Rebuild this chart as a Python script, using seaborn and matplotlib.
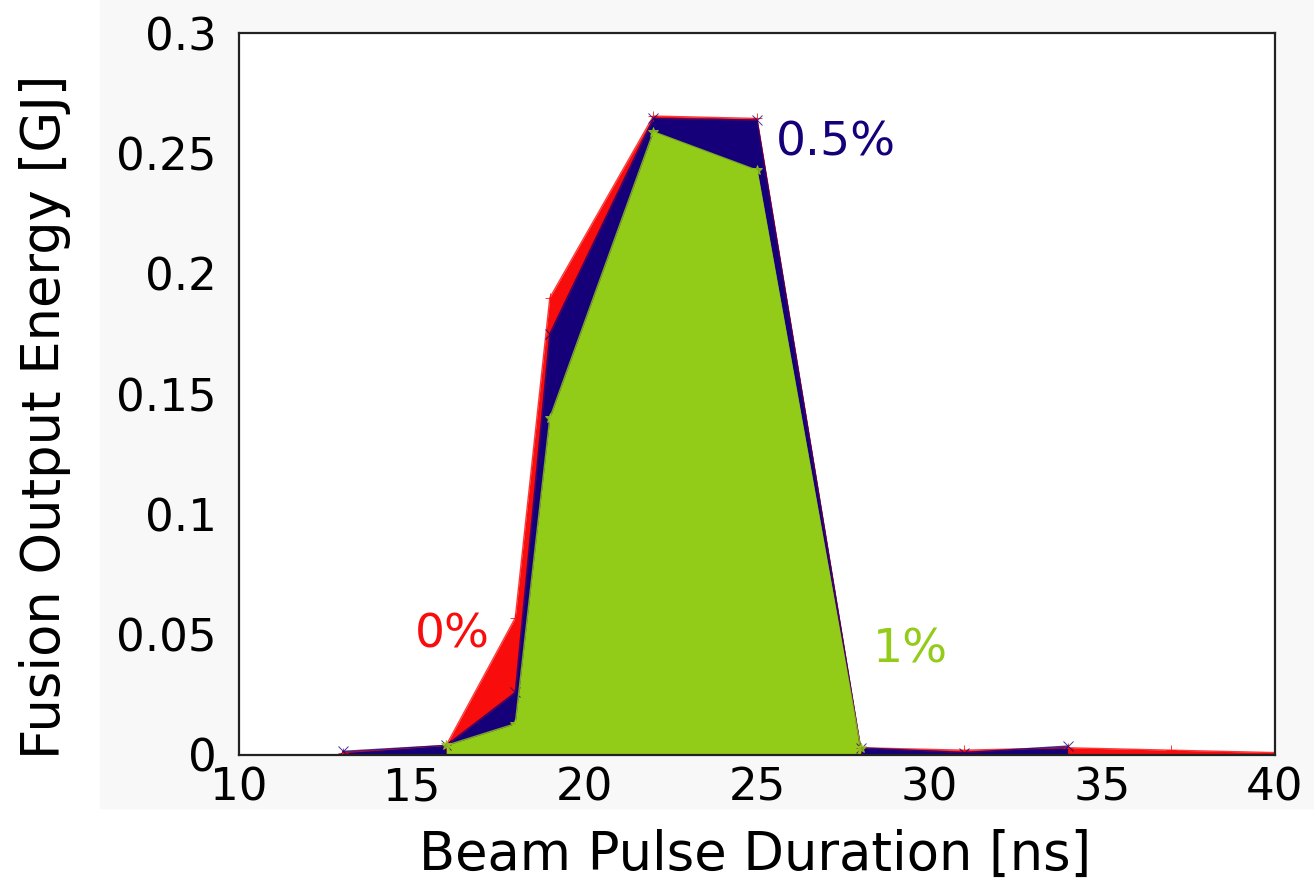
import numpy as np
import pandas as pd
import seaborn as sns
import matplotlib
matplotlib.use("Agg")
import matplotlib.pyplot as plt
from matplotlib.patches import Rectangle

# beam pulse duration [ns] and fusion output energy [GJ] for each impurity level
x_red = [13, 16, 18, 19, 22, 25, 28, 31, 34, 37, 40]
y_red = [0.001, 0.004, 0.057, 0.190, 0.2655, 0.2645, 0.003, 0.002, 0.003, 0.002, 0.001]

x_blue = [13, 16, 18, 19, 22, 25, 28, 31, 34]
y_blue = [0.0015, 0.004, 0.026, 0.175, 0.2645, 0.2638, 0.003, 0.001, 0.0037]

x_green = [16, 18, 19, 22, 25, 28]
y_green = [0.004, 0.013, 0.140, 0.259, 0.243, 0.003]

labels = ["0%", "0.5%", "1%"]
colors = ["#f80c0c", "#16007a", "#93cb19"]

xticks = [10, 15, 20, 25, 30, 35, 40]
yticks = [0, 0.05, 0.1, 0.15, 0.2, 0.25, 0.3]
ytick_labels = ["0", "0.05", "0.1", "0.15", "0.2", "0.25", "0.3"]

sns.set_style("white")
plt.rcParams['font.family'] = ['DejaVu Sans']

fig = plt.figure(figsize=(13.14, 8.85), dpi=100)
# faint grey panel behind the plot, as in the source image
fig.patches.append(Rectangle((100 / 1314, 1 - 808 / 885), 1 - 100 / 1314, 808 / 885,
                             transform=fig.transFigure, color="#f8f8f8", zorder=-10))
ax = fig.add_axes([0.1819, 0.1469, 0.9703 - 0.1819, 0.9627 - 0.1469])
ax.set_facecolor("white")

# draw 0% first, then 0.5%, then 1% on top
series = [(x_red, y_red, "+"), (x_blue, y_blue, "x"), (x_green, y_green, "*")]
for (xs, ys, mk), lab, col in zip(series, labels, colors):
  df = pd.DataFrame({"x": xs, "y": ys})
  ax.fill_between(df["x"], df["y"], 0, color=col, linewidth=0)
  sns.lineplot(data=df, x="x", y="y", ax=ax, color=col, linewidth=1.0,
               marker=mk, markersize=7, markeredgewidth=0.7,
               markeredgecolor=col, alpha=0.8)

# series labels
ax.text(16.17, 0.0499, "0%", color=colors[0], fontsize=34, ha="center", va="center")
ax.text(27.29, 0.2545, "0.5%", color=colors[1], fontsize=34, ha="center", va="center")
ax.text(29.43, 0.0436, "1%", color=colors[2], fontsize=34, ha="center", va="center")

ax.set_xlim(10, 40)
ax.set_ylim(0, 0.3)
ax.set_xticks(xticks)
ax.set_xticklabels([str(t) for t in xticks])
ax.set_yticks(yticks)
ax.set_yticklabels(ytick_labels)
ax.tick_params(axis="both", direction="in", length=8, width=1.5, labelsize=32.5,
               colors="black", top=False, right=False)
ax.tick_params(axis="y", pad=16)
ax.tick_params(axis="x", pad=8)
for s in ax.spines.values():
  s.set_linewidth(1.6)
  s.set_color("#222222")

ax.set_xlabel("Beam Pulse Duration [ns]", fontsize=38, color="black")
ax.set_ylabel("Fusion Output Energy [GJ]", fontsize=38, color="black")
ax.xaxis.set_label_coords(0.498, -0.103)
ax.yaxis.set_label_coords(-0.162, 0.468)

fig.savefig("out.png", dpi=100)
